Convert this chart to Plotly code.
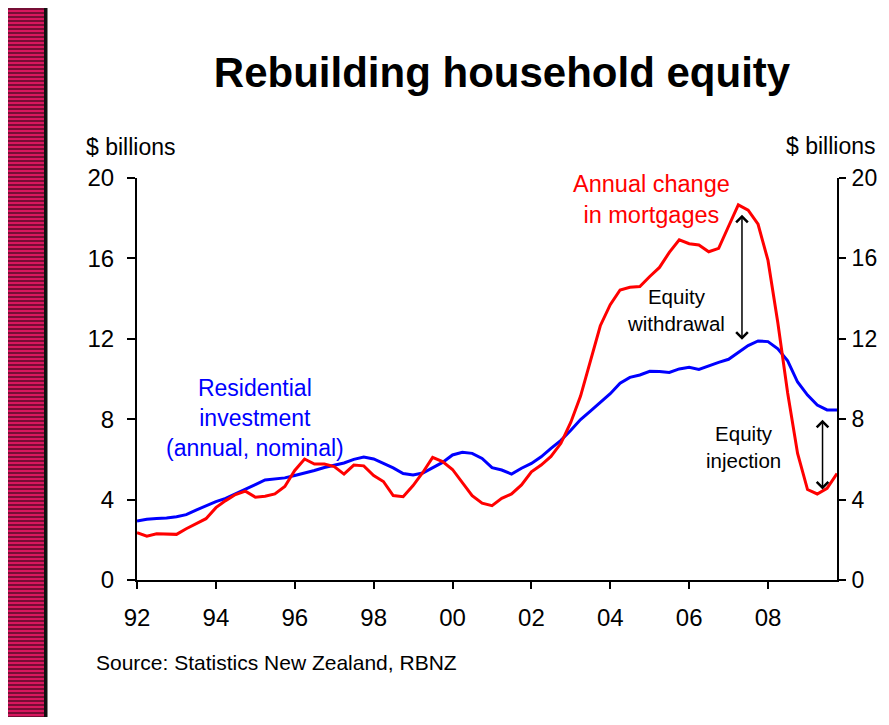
import plotly.graph_objects as go

# quarterly, 1992Q1 - 2009Q4
quarters = ["%d-%02d-01" % (y, m) for y in range(1992, 2010) for m in (1, 4, 7, 10)]

# $ billions
mortgage_change = [
    2.35, 2.18, 2.30, 2.30, 2.27, 2.55, 2.80, 3.05,
    3.60, 3.95, 4.25, 4.42, 4.12, 4.17, 4.28, 4.65,
    5.45, 6.02, 5.77, 5.77, 5.64, 5.27, 5.72, 5.68,
    5.20, 4.90, 4.20, 4.14, 4.70, 5.35, 6.10, 5.89,
    5.50, 4.85, 4.20, 3.82, 3.70, 4.06, 4.28, 4.73,
    5.38, 5.72, 6.15, 6.80, 7.85, 9.15, 10.90, 12.65,
    13.70, 14.43, 14.56, 14.60, 15.10, 15.55, 16.30, 16.92,
    16.73, 16.67, 16.33, 16.50, 17.60, 18.66, 18.40, 17.70,
    15.90, 12.80, 9.30, 6.30, 4.50, 4.28, 4.56, 5.30,
]
residential_inv = [
    2.93, 3.02, 3.06, 3.08, 3.15, 3.25, 3.48, 3.70,
    3.90, 4.06, 4.30, 4.52, 4.75, 4.98, 5.02, 5.08,
    5.20, 5.32, 5.45, 5.60, 5.72, 5.82, 6.00, 6.12,
    6.02, 5.82, 5.58, 5.30, 5.22, 5.32, 5.60, 5.85,
    6.22, 6.35, 6.30, 6.05, 5.59, 5.47, 5.27, 5.56,
    5.80, 6.13, 6.55, 6.95, 7.45, 7.98, 8.40, 8.82,
    9.27, 9.79, 10.08, 10.20, 10.38, 10.37, 10.33, 10.50,
    10.58, 10.48, 10.66, 10.83, 10.98, 11.33, 11.66, 11.89,
    11.86, 11.50, 10.90, 9.85, 9.20, 8.70, 8.46, 8.46,
]

y_ticks = [0, 4, 8, 12, 16, 20]

FONT = "Liberation Sans, Arial, sans-serif"

fig = go.Figure()
fig.add_trace(go.Scatter(x=quarters, y=residential_inv, mode="lines",
                         line=dict(color="#0000ff", width=3), name="Residential investment"))
fig.add_trace(go.Scatter(x=quarters, y=mortgage_change, mode="lines",
                         line=dict(color="#ff0000", width=3), name="Annual change in mortgages"))


# page body has an 8px margin all round, so the figure is 16px smaller than the window
# and screen pixel p sits at p - 8 inside the figure
def py(p):
    # screen row -> paper y
    return (580 - p) / 402.0


def px(p):
    # screen column -> paper x
    return (p - 137) / 700.0


# striped band down the left edge
shapes = [dict(type="rect", xref="paper", yref="paper", x0=px(6), x1=px(44),
               y0=py(740), y1=py(6), fillcolor="#d8175e", line_width=0, layer="below")]
row = 9
while row < 740:
    shapes.append(dict(type="line", xref="paper", yref="paper", x0=px(6), x1=px(44),
                       y0=py(row), y1=py(row), line=dict(color="#560c28", width=1.3)))
    row += 4
shapes.append(dict(type="rect", xref="paper", yref="paper", x0=px(44), x1=px(47.5),
                   y0=py(740), y1=py(6), fillcolor="#111111", line_width=0))

annotations = [
    dict(text="$ billions", xref="paper", yref="paper", x=px(84), y=py(147),
         xanchor="left", yanchor="middle", showarrow=False, font=dict(size=23, color="black")),
    dict(text="$ billions", xref="paper", yref="paper", x=px(878), y=py(146),
         xanchor="right", yanchor="middle", showarrow=False, font=dict(size=23, color="black")),
    dict(text="Source: Statistics New Zealand, RBNZ", xref="paper", yref="paper",
         x=px(94), y=py(662), xanchor="left", yanchor="middle", showarrow=False,
         font=dict(size=21, color="black")),
    dict(text="Residential<br>investment<br>(annual, nominal)", x="1995-01-01", y=8.05,
         showarrow=False, font=dict(size=23, color="#0000ff")),
    dict(text="Annual change<br>in mortgages", x="2005-01-20", y=18.95,
         showarrow=False, font=dict(size=23.5, color="#ff0000")),
    dict(text="Equity<br>withdrawal", x="2005-09-01", y=13.45,
         showarrow=False, font=dict(size=20.5, color="black")),
    dict(text="Equity<br>injection", x="2007-05-15", y=6.6,
         showarrow=False, font=dict(size=20.5, color="black")),
    # double-headed arrows
    dict(text="", x="2007-05-05", y=11.95, ax="2007-05-05", ay=18.25,
         axref="x", ayref="y", showarrow=True, arrowside="end+start",
         arrowhead=4, startarrowhead=4, arrowsize=1.5, startarrowsize=1.5,
         arrowwidth=1.5, arrowcolor="black", standoff=0, startstandoff=0),
    dict(text="", x="2009-05-20", y=4.5, ax="2009-05-20", ay=8.05,
         axref="x", ayref="y", showarrow=True, arrowside="end+start",
         arrowhead=4, startarrowhead=4, arrowsize=1.5, startarrowsize=1.5,
         arrowwidth=1.5, arrowcolor="black", standoff=0, startstandoff=0),
]

fig.update_layout(
    width=873, height=709,
    margin=dict(l=129, r=44, t=170, b=137),
    paper_bgcolor="white", plot_bgcolor="white",
    font=dict(family=FONT, color="black"),
    showlegend=False,
    title=dict(text="<b>Rebuilding household equity</b>", xref="paper", x=px(502), xanchor="center",
               yref="container", y=1 - (72 - 8) / 709.0, yanchor="middle",
               font=dict(size=42, color="black", family=FONT)),
    xaxis=dict(
        type="date", range=["1992-01-01", "2009-10-01"],
        tick0="1992-01-01", dtick="M24", tickformat="%y",
        showline=True, linecolor="black", linewidth=2, mirror=False,
        ticks="outside", ticklen=7, tickwidth=2, tickcolor="black",
        showgrid=False, zeroline=False, ticklabelstandoff=8, automargin=False,
        tickfont=dict(size=24, color="black"),
    ),
    yaxis=dict(
        range=[0, 20], tickvals=y_ticks,
        showline=True, linecolor="black", linewidth=2,
        ticks="outside", ticklen=8, tickwidth=2, tickcolor="black",
        showgrid=False, zeroline=False, ticklabelstandoff=8, automargin=False,
        tickfont=dict(size=24, color="black"),
    ),
    yaxis2=dict(
        range=[0, 20], tickvals=y_ticks, overlaying="y", side="right",
        showline=True, linecolor="black", linewidth=2,
        ticks="outside", ticklen=7, tickwidth=2, tickcolor="black",
        showgrid=False, zeroline=False, ticklabelstandoff=1, automargin=False,
        tickfont=dict(size=23, color="black"),
    ),
    shapes=shapes,
    annotations=annotations,
)
# invisible point so the right axis is drawn
fig.add_trace(go.Scatter(x=quarters[:1], y=[0], yaxis="y2", mode="markers",
                         marker=dict(opacity=0), hoverinfo="skip"))

fig.write_html("out.html")
